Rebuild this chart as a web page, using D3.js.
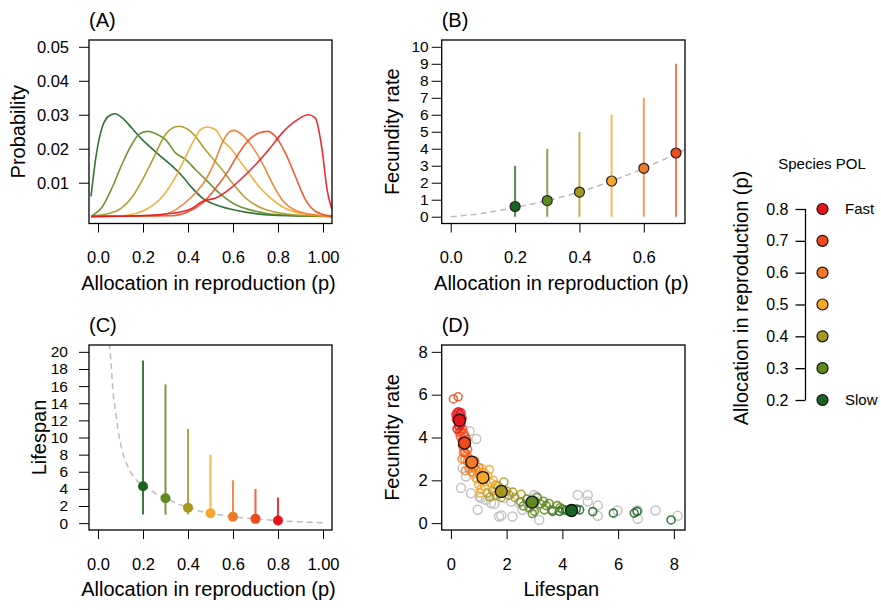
<!DOCTYPE html>
<html>
<head>
<meta charset="utf-8">
<script src="https://cdn.jsdelivr.net/npm/d3@7"></script>
<style>
body{margin:0;background:#fff}
svg text{font-family:"Liberation Sans",Arial,Helvetica,sans-serif;fill:#000}
</style>
</head>
<body>
<svg id="fig" width="881" height="610"></svg>
<script>
// species allocation levels and colours (slow -> fast)
var pLevels = [0.2, 0.3, 0.4, 0.5, 0.6, 0.7, 0.8];
var polColors = ['#1b6321', '#5f8a1f', '#a8971f', '#f5a72a', '#f07a29', '#ef4b1d', '#e5141b'];

// (A) probability densities of allocation, one curve per level  [p, probability]
var densA = [
  [[-0.031,0.006],[-0.009,0.0177],[0.02,0.0266],[0.05,0.0297],[0.077,0.0303],[0.109,0.029],[0.154,0.0258],[0.198,0.0226],[0.242,0.0199],[0.287,0.0173],[0.331,0.0148],[0.375,0.0119],[0.419,0.0084],[0.464,0.0055],[0.523,0.0035],[0.597,0.0021],[0.7,0.0009],[0.848,0.0003],[1.04,0.0001]],
  [[-0.03,0.0002],[0.02,0.003],[0.065,0.0089],[0.109,0.0158],[0.154,0.0217],[0.183,0.0243],[0.22,0.0251],[0.257,0.0244],[0.301,0.0226],[0.346,0.0187],[0.39,0.0168],[0.434,0.0138],[0.479,0.0109],[0.538,0.007],[0.612,0.0035],[0.7,0.0016],[0.818,0.0005],[1.04,0.0001]],
  [[-0.03,0.0001],[0.08,0.0016],[0.154,0.006],[0.213,0.0128],[0.257,0.0187],[0.294,0.0236],[0.331,0.0261],[0.36,0.0266],[0.397,0.0258],[0.434,0.0236],[0.471,0.0202],[0.508,0.0173],[0.552,0.0138],[0.597,0.0099],[0.656,0.0055],[0.744,0.0021],[0.877,0.0005],[1.04,0.0001]],
  [[-0.03,0.0001],[0.109,0.0003],[0.213,0.0021],[0.287,0.006],[0.346,0.0119],[0.39,0.0177],[0.427,0.0226],[0.456,0.0256],[0.486,0.0264],[0.523,0.0256],[0.552,0.0226],[0.589,0.0202],[0.626,0.0168],[0.671,0.0128],[0.715,0.0089],[0.759,0.006],[0.818,0.003],[0.907,0.0009],[1.04,0.0001]],
  [[-0.03,0.0001],[0.257,0.0003],[0.346,0.0021],[0.419,0.006],[0.479,0.0109],[0.523,0.0168],[0.552,0.0217],[0.582,0.0248],[0.604,0.0254],[0.641,0.0241],[0.685,0.0207],[0.73,0.0158],[0.774,0.0099],[0.818,0.005],[0.877,0.0019],[0.966,0.0005],[1.04,0.0001]],
  [[-0.03,0.0001],[0.331,0.0003],[0.405,0.0016],[0.464,0.004],[0.523,0.0084],[0.582,0.0138],[0.626,0.0187],[0.671,0.0226],[0.715,0.0246],[0.752,0.0251],[0.789,0.0236],[0.833,0.0187],[0.877,0.0119],[0.922,0.005],[0.966,0.0016],[1.04,0.0001]],
  [[-0.03,0.0001],[0.183,0.0003],[0.331,0.001],[0.419,0.0025],[0.464,0.0045],[0.523,0.0055],[0.582,0.008],[0.641,0.0114],[0.7,0.0153],[0.759,0.0197],[0.818,0.0246],[0.877,0.0281],[0.936,0.03],[0.966,0.029],[0.996,0.0197],[1.018,0.008],[1.04,0.0021]]
];

// (B) fecundity rate per allocation level
var pB = [0.2, 0.3, 0.4, 0.5, 0.6, 0.7];
var fecB = [0.6, 0.95, 1.45, 2.1, 2.85, 3.75];
var fecLoB = [0, 0, 0, 0, 0, 0];
var fecHiB = [3, 4, 5, 6, 7, 9];
var fitB = [[0,0],[0.1,0.2],[0.2,0.55],[0.3,0.95],[0.4,1.45],[0.5,2.1],[0.6,2.85],[0.7,3.7],[0.728,3.95]];

// (C) lifespan per allocation level
var lifeC = [4.3, 2.9, 1.8, 1.15, 0.75, 0.5, 0.3];
var lifeLoC = [1, 1, 1, 1, 0.75, 0.5, 0.3];
var lifeHiC = [19, 16.2, 11, 8, 5, 4, 3];
var fitC = [[0.051,21],[0.059,18.3],[0.066,15.6],[0.077,13.25],[0.089,10.9],[0.106,8.6],[0.133,6.6],[0.17,5.05],[0.21,4.3],[0.266,3.3],[0.303,2.9],[0.355,2.26],[0.4,1.83],[0.458,1.36],[0.5,1.15],[0.6,0.75],[0.7,0.5],[0.8,0.3],[0.9,0.15],[1.0,0.05]];

// (D) lifespan vs fecundity: species points per level [lifespan, fecundity]
var speciesD = [
  [[3.65,0.55],[3.9,0.55],[4.0,0.65],[4.12,0.6],[4.5,0.66],[4.62,0.62],[5.09,0.54],[5.83,0.47],[6.58,0.47],[6.68,0.55],[7.9,0.15]],
  [[2.5,1.0],[2.6,0.8],[2.72,1.12],[2.8,0.72],[3.02,1.02],[3.2,0.9],[3.32,1.02],[3.42,0.82],[3.52,0.92],[3.62,0.62],[3.82,0.82],[3.0,0.55],[2.92,0.45],[3.92,0.72],[3.1,1.2],[3.35,0.62]],
  [[1.3,1.4],[1.5,1.5],[1.62,1.3],[1.7,1.72],[1.9,1.92],[2.0,1.5],[2.1,1.3],[2.22,1.45],[1.8,1.2],[1.6,1.78],[2.3,1.2],[1.4,1.22],[2.52,1.35]],
  [[0.8,2.3],[0.9,2.1],[1.0,2.4],[1.1,2.55],[1.2,2.35],[1.32,2.2],[1.42,1.9],[1.0,1.8],[1.08,1.6],[1.25,1.95],[0.95,2.05],[1.38,2.5],[1.52,2.0],[1.2,1.72],[1.05,1.4],[1.6,1.6]],
  [[0.45,3.3],[0.5,3.0],[0.56,3.2],[0.66,3.0],[0.7,2.7],[0.82,2.62],[0.9,2.5],[0.6,2.9],[0.86,2.9],[0.52,2.45],[1.0,2.6],[0.75,2.4],[0.4,3.0],[0.65,2.55]],
  [[0.09,5.8],[0.26,5.9],[0.3,4.45],[0.36,4.3],[0.42,4.4],[0.46,4.2],[0.52,4.05],[0.34,4.05],[0.56,3.9],[0.42,3.6],[0.6,3.45],[0.5,3.3],[0.4,3.85],[0.3,4.25]],
  [[0.18,5.05],[0.22,5.15],[0.27,5.2],[0.32,5.1],[0.36,5.15],[0.25,4.95],[0.2,4.85],[0.4,4.9],[0.35,4.6],[0.28,4.55],[0.22,4.4]]
];
var greyD = [[0.42,2.57],[0.54,2.18],[0.36,1.64],[0.72,1.4],[0.96,0.62],[1.08,1.17],[1.26,1.09],[1.44,0.94],[1.56,0.9],[1.73,0.31],[1.91,1.17],[2.16,1.01],[2.21,0.31],[2.45,0.94],[2.57,0.62],[2.99,1.32],[3.17,0.15],[2.99,0.78],[4.55,1.32],[4.91,1.32],[4.91,1.01],[5.27,0.83],[5.27,0.34],[5.98,0.59],[6.7,0.59],[6.7,0.2],[7.34,0.59],[8.14,0.34],[0.91,3.93],[0.67,4.29],[1.03,1.24],[1.81,0.36],[3.06,1.24]];
var lifeMeanD = [4.33, 2.91, 1.81, 1.15, 0.75, 0.49, 0.31];
var fecMeanD = [0.59, 0.98, 1.48, 2.13, 2.85, 3.74, 4.8];

var svg = d3.select('#fig');
var FONT = '"Liberation Sans",Arial,Helvetica,sans-serif';

function styleAxis(sel, size){
  sel.select('.domain').remove();
  sel.attr('font-family', FONT).attr('font-size', size);
  sel.selectAll('.tick line').attr('stroke', '#000').attr('stroke-width', 1);
  sel.selectAll('.tick text').attr('fill', '#000');
}

function panel(o){
  var g = svg.append('g');
  var x = d3.scaleLinear().domain(o.xd).range([o.l, o.r]);
  var y = d3.scaleLinear().domain(o.yd).range([o.b, o.t]);
  g.append('clipPath').attr('id', 'clip' + o.name)
    .append('rect').attr('x', o.l).attr('y', o.t).attr('width', o.r - o.l).attr('height', o.b - o.t);
  var plot = g.append('g').attr('clip-path', 'url(#clip' + o.name + ')');

  var xa = d3.axisBottom(x).tickValues(o.xt).tickFormat(function(d, i){ return o.xl[i]; })
    .tickSize(9).tickSizeOuter(0).tickPadding(o.xpad);
  g.append('g').attr('transform', 'translate(0,' + o.b + ')').call(xa).call(styleAxis, o.xfs);
  var ya = d3.axisLeft(y).tickValues(o.yt).tickFormat(function(d, i){ return o.yl[i]; })
    .tickSize(o.ytick).tickSizeOuter(0).tickPadding(o.ypad);
  g.append('g').attr('transform', 'translate(' + o.l + ',0)').call(ya).call(styleAxis, o.yfs);

  g.append('text').attr('x', (o.l + o.r) / 2 - 2).attr('y', o.b + 66)
    .attr('text-anchor', 'middle').attr('font-size', 20).text(o.xtitle);
  g.append('text').attr('transform', 'translate(' + o.ytx + ',' + (o.t + o.b) / 2 + ') rotate(-90)')
    .attr('text-anchor', 'middle').attr('dy', '0.35em').attr('font-size', 20).text(o.ytitle);
  g.append('text').attr('x', o.l).attr('y', o.t - 13).attr('font-size', 20).text(o.tag);

  return {g: g, plot: plot, x: x, y: y, box: function(){
    g.append('rect').attr('x', o.l).attr('y', o.t).attr('width', o.r - o.l).attr('height', o.b - o.t)
      .attr('fill', 'none').attr('stroke', '#000').attr('stroke-width', 1.3);
  }};
}

var pLabels = ['0.0', '0.2', '0.4', '0.6', '0.8', '1.00'];
var pTicks = [0, 0.2, 0.4, 0.6, 0.8, 1];

// ---------- (A)
var A = panel({name: 'A', l: 89, r: 332, t: 40, b: 223.5, xd: [-0.04, 1.04], yd: [-0.002, 0.052],
  xt: pTicks, xl: pLabels, yt: [0.01, 0.02, 0.03, 0.04, 0.05], yl: ['0.01', '0.02', '0.03', '0.04', '0.05'],
  xpad: 19, ypad: 10, ytick: 10, xfs: 16.5, yfs: 16.5, ytx: 18,
  xtitle: 'Allocation in reproduction (p)', ytitle: 'Probability', tag: '(A)'});
var lineA = d3.line().x(function(d){ return A.x(d[0]); }).y(function(d){ return A.y(d[1]); }).curve(d3.curveMonotoneX);
densA.forEach(function(c, i){
  A.plot.append('path').attr('d', lineA(c)).attr('fill', 'none')
    .attr('stroke', polColors[i]).attr('stroke-opacity', 0.9).attr('stroke-width', 1.6);
});
A.box();

// ---------- (B)
var B = panel({name: 'B', l: 441.7, r: 685, t: 40, b: 223.5, xd: [-0.028, 0.728], yd: [-0.4, 10.4],
  xt: [0, 0.2, 0.4, 0.6], xl: ['0.0', '0.2', '0.4', '0.6'], yt: d3.range(0, 11), yl: d3.range(0, 11).map(String),
  xpad: 19, ypad: 3, ytick: 10, xfs: 16.5, yfs: 15.5, ytx: 392,
  xtitle: 'Allocation in reproduction (p)', ytitle: 'Fecundity rate', tag: '(B)'});
var lineB = d3.line().x(function(d){ return B.x(d[0]); }).y(function(d){ return B.y(d[1]); }).curve(d3.curveMonotoneX);
B.plot.append('path').attr('d', lineB(fitB)).attr('fill', 'none').attr('stroke', '#bdbdbd')
  .attr('stroke-width', 1.5).attr('stroke-dasharray', '6,4');
pB.forEach(function(p, i){
  B.plot.append('line').attr('x1', B.x(p)).attr('x2', B.x(p)).attr('y1', B.y(fecLoB[i])).attr('y2', B.y(fecHiB[i]))
    .attr('stroke', polColors[i]).attr('stroke-opacity', 0.75).attr('stroke-width', 2);
});
pB.forEach(function(p, i){
  B.plot.append('circle').attr('cx', B.x(p)).attr('cy', B.y(fecB[i])).attr('r', 5)
    .attr('fill', polColors[i]).attr('stroke', '#222').attr('stroke-width', 1.2);
});
B.box();

// ---------- (C)
var C = panel({name: 'C', l: 89, r: 332, t: 345, b: 530, xd: [-0.04, 1.04], yd: [-0.8, 20.8],
  xt: pTicks, xl: pLabels, yt: d3.range(0, 21, 2), yl: d3.range(0, 21, 2).map(String),
  xpad: 19, ypad: 11, ytick: 10, xfs: 16.5, yfs: 15.5, ytx: 39,
  xtitle: 'Allocation in reproduction (p)', ytitle: 'Lifespan', tag: '(C)'});
var lineC = d3.line().x(function(d){ return C.x(d[0]); }).y(function(d){ return C.y(d[1]); }).curve(d3.curveMonotoneX);
C.plot.append('path').attr('d', lineC(fitC)).attr('fill', 'none').attr('stroke', '#bdbdbd')
  .attr('stroke-width', 1.5).attr('stroke-dasharray', '6,4');
pLevels.forEach(function(p, i){
  C.plot.append('line').attr('x1', C.x(p)).attr('x2', C.x(p)).attr('y1', C.y(lifeLoC[i])).attr('y2', C.y(lifeHiC[i]))
    .attr('stroke', polColors[i]).attr('stroke-opacity', 0.85).attr('stroke-width', 2);
  C.plot.append('circle').attr('cx', C.x(p)).attr('cy', C.y(lifeC[i])).attr('r', 5)
    .attr('fill', polColors[i]);
});
C.box();

// ---------- (D)
var D = panel({name: 'D', l: 441.7, r: 685, t: 345, b: 530, xd: [-0.33, 8.4], yd: [-0.32, 8.32],
  xt: [0, 2, 4, 6, 8], xl: ['0', '2', '4', '6', '8'], yt: [0, 2, 4, 6, 8], yl: ['0', '2', '4', '6', '8'],
  xpad: 19, ypad: 4, ytick: 10, xfs: 16.5, yfs: 16.5, ytx: 392,
  xtitle: 'Lifespan', ytitle: 'Fecundity rate', tag: '(D)'});
D.plot.selectAll('circle.grey').data(greyD).enter().append('circle').attr('class', 'grey')
  .attr('cx', function(d){ return D.x(d[0]); }).attr('cy', function(d){ return D.y(d[1]); })
  .attr('r', 4.5).attr('fill', 'none').attr('stroke', '#c4c4c4').attr('stroke-width', 1.5);
speciesD.forEach(function(pts, i){
  D.plot.selectAll('circle.sp' + i).data(pts).enter().append('circle').attr('class', 'sp' + i)
    .attr('cx', function(d){ return D.x(d[0]); }).attr('cy', function(d){ return D.y(d[1]); })
    .attr('r', 4).attr('fill', 'none').attr('stroke', polColors[i]).attr('stroke-opacity', 0.85).attr('stroke-width', 1.6);
});
lifeMeanD.forEach(function(l, i){
  D.plot.append('circle').attr('cx', D.x(l)).attr('cy', D.y(fecMeanD[i])).attr('r', 6)
    .attr('fill', polColors[i]).attr('stroke', '#111').attr('stroke-width', 1.3);
});
D.box();

// ---------- legend (Species POL)
var leg = svg.append('g');
var ly = d3.scaleLinear().domain([0.2, 0.8]).range([400, 209]);
leg.append('text').attr('x', 822).attr('y', 169).attr('text-anchor', 'middle').attr('font-size', 15).text('Species POL');
var la = d3.axisLeft(ly).tickValues(pLevels).tickFormat(d3.format('.1f')).tickSize(10).tickPadding(7);
leg.append('g').attr('transform', 'translate(805.5,0)').call(la).call(function(s){
  s.select('.domain').attr('d', 'M0,' + ly(0.2) + 'V' + ly(0.8)).attr('stroke', '#000').attr('stroke-width', 1.3);
  s.attr('font-family', FONT).attr('font-size', 16);
  s.selectAll('.tick line').attr('stroke', '#000').attr('stroke-width', 1.3);
  s.selectAll('.tick text').attr('fill', '#000');
});
leg.selectAll('circle').data(pLevels).enter().append('circle')
  .attr('cx', 822.5).attr('cy', function(d){ return ly(d); }).attr('r', 5.5)
  .attr('fill', function(d, i){ return polColors[i]; }).attr('stroke', '#111').attr('stroke-width', 1.2);
leg.append('text').attr('x', 845).attr('y', ly(0.8)).attr('dy', '0.35em').attr('font-size', 15).text('Fast');
leg.append('text').attr('x', 845).attr('y', ly(0.2)).attr('dy', '0.35em').attr('font-size', 15).text('Slow');
leg.append('text').attr('transform', 'translate(741,298) rotate(-90)').attr('text-anchor', 'middle')
  .attr('dy', '0.35em').attr('font-size', 20).text('Allocation in reproduction (p)');
</script>
</body>
</html>
